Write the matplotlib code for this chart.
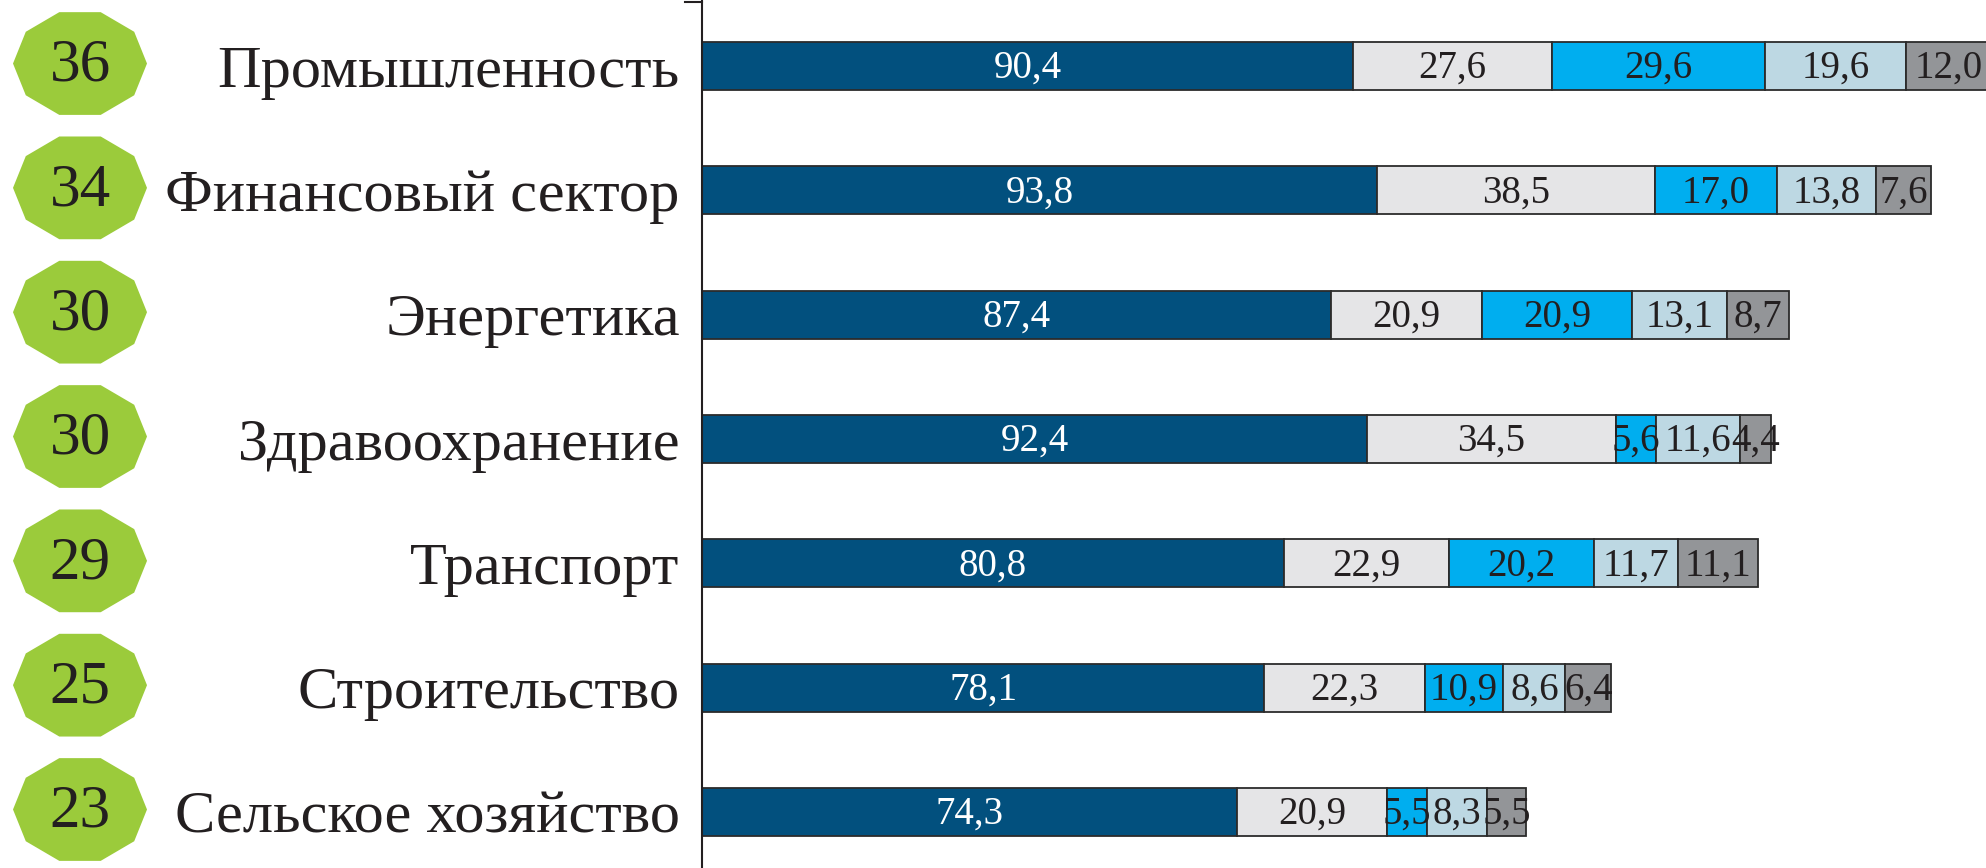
import numpy as np
import matplotlib
matplotlib.use('Agg')
import matplotlib.pyplot as plt
from matplotlib.patches import Polygon

# отрасли и их итоговый балл
sectors = ['Промышленность', 'Финансовый сектор', 'Энергетика',
           'Здравоохранение', 'Транспорт', 'Строительство',
           'Сельское хозяйство']
scores = [36, 34, 30, 30, 29, 25, 23]

# составляющие балла по отраслям
part1 = [90.4, 93.8, 87.4, 92.4, 80.8, 78.1, 74.3]
part2 = [27.6, 38.5, 20.9, 34.5, 22.9, 22.3, 20.9]
part3 = [29.6, 17.0, 20.9, 5.6, 20.2, 10.9, 5.5]
part4 = [19.6, 13.8, 13.1, 11.6, 11.7, 8.6, 8.3]
part5 = [12.0, 7.6, 8.7, 4.4, 11.1, 6.4, 5.5]

parts = [part1, part2, part3, part4, part5]
colors = ['#02507e', '#e5e5e7', '#00aeef', '#bdd8e3', '#939598']
txt_colors = ['white', '#231f20', '#231f20', '#231f20', '#231f20']

W, H = 1986, 868
px_x = 7.2          # пикселей на единицу по оси x
x0 = 702            # положение оси в пикселях
row_px = 124.3

plt.rcParams['font.family'] = ['Liberation Serif', 'DejaVu Serif']

fig = plt.figure(figsize=(W / 100, H / 100), dpi=100)
ax = fig.add_axes([x0 / W, 0, 1 - x0 / W, 1])
ax.set_xlim(0, (W - x0) / px_x)
y_top = -66 / row_px
y_bot = 6 + (H - 812) / row_px
ax.set_ylim(y_bot, y_top)

y = np.arange(len(sectors))
left = np.zeros(len(sectors))
for vals, c, tc in zip(parts, colors, txt_colors):
    vals = np.array(vals)
    ax.barh(y, vals, left=left, height=0.386, color=c,
            edgecolor='#2b2b2b', linewidth=1.3)
    for yi, l, v in zip(y, left, vals):
        ax.text(l + v / 2, yi + 0.02, f'{v:.1f}'.replace('.', ','),
                ha='center', va='center', fontsize=28, color=tc)
    left += vals

# подписи отраслей
ax.set_yticks(y, sectors, fontsize=43.5, color='#231f20')
ax.tick_params(axis='y', length=0, pad=16)
ax.set_xticks([])
for s in ['top', 'right', 'bottom']:
    ax.spines[s].set_visible(False)
ax.spines['left'].set_color('#231f20')
ax.spines['left'].set_linewidth(1.5)
ax.plot([-17 / px_x, 0], [y_top + 0.02, y_top + 0.02], color='#231f20',
        lw=1.5, clip_on=False)

# зелёные десятиугольники с баллами
ang = np.linspace(0, 2 * np.pi, 11)[:-1]
rx = 67 / px_x
ry = 54 / row_px
cx = (80 - x0) / px_x
for yi, sc in zip(y, scores):
    cy = yi - 0.02
    pts = np.column_stack([cx + rx * np.cos(ang), cy + ry * np.sin(ang)])
    ax.add_patch(Polygon(pts, closed=True, facecolor='#9bcb3b',
                         edgecolor='none', clip_on=False))
    ax.text(cx, cy + 0.02, str(sc), ha='center', va='center', fontsize=44,
            color='#231f20', clip_on=False)

fig.savefig('out.png', dpi=100)
